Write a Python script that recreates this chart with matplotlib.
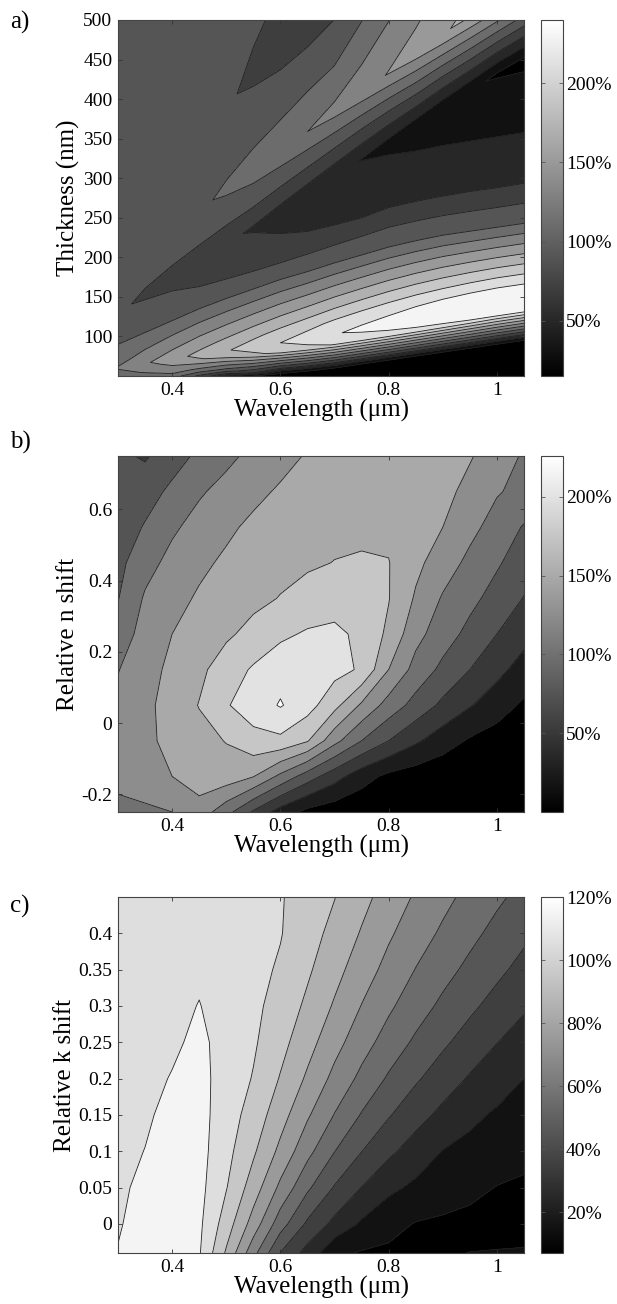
import numpy as np
import matplotlib.pyplot as plt
from matplotlib import cm
from matplotlib.colors import Normalize

plt.rcParams['font.family'] = ['Liberation Serif', 'DejaVu Serif']

# ---- a) enhancement vs wavelength and thickness
# each row follows one feature of the map (edge, ridge or valley): thickness (nm) and value (%)
wl_a = [0.30, 0.35, 0.40, 0.45, 0.50, 0.55, 0.60, 0.65, 0.70, 0.75, 0.80, 0.85, 0.90, 0.95, 1.00, 1.05]
bottom_d = [50] * 16
bottom_v = [105, 110, 112, 75, 40, 20, 17, 17, 17, 17, 17, 17, 17, 17, 17, 17]
edge_d = [53, 55, 57, 58, 58, 54, 53, 56, 60, 65, 70, 75, 80, 85, 90, 95]
edge_v = [112, 122, 130, 115, 95, 60, 19.5, 19.5, 19.5, 19.5, 19.5, 19.5, 19.5, 19.5, 19.5, 19.5]
shoulder_d = [57, 62, 67, 71, 75, 77, 80, 85, 90, 96, 102, 108, 114, 120, 126, 131]
shoulder_v = [118, 132, 146, 158, 168, 176, 185, 194, 201, 207, 212, 215, 217, 219, 220, 220]
ridge0_d = [60, 66, 72, 77, 82, 87, 92, 97, 103, 109, 115, 121, 128, 134, 141, 146]
ridge0_v = [122, 137, 152, 166, 178, 190, 200, 210, 218, 225, 230, 234, 236, 238, 240, 240]
upper_d = [68, 75, 82, 88, 94, 100, 106, 112, 119, 126, 133, 140, 147, 154, 160, 165]
upper_v = [114, 128, 141, 154, 165, 176, 186, 195, 203, 209, 214, 218, 220, 221, 222, 222]
flank_d = [90, 105, 120, 135, 148, 160, 172, 182, 193, 203, 213, 221, 228, 233, 238, 243]
flank_v = [100] * 16
slope_d = [110, 128, 146, 163, 180, 196, 210, 224, 237, 250, 263, 272, 280, 287, 293, 300]
slope_v = [92, 90, 86, 80, 74, 68, 64, 62, 61, 60, 60, 59, 58, 57, 56, 55]
valley1_d = [130, 152, 173, 195, 217, 238, 260, 281, 303, 324, 346, 367, 389, 410, 432, 450]
valley1_v = [83, 77, 72, 67, 62.5, 58.5, 54, 49, 44.5, 39.5, 35, 30, 26, 22, 18.5, 16]
mid_d = [158, 181, 204, 228, 251, 273, 297, 320, 343, 366, 390, 412, 436, 458, 481, 503]
mid_v = [87, 87, 87, 88, 88, 88, 87, 86, 85, 84, 86, 88, 90, 92, 94, 96]
ridge1_d = [186, 211, 235, 260, 285, 309, 334, 359, 383, 408, 433, 457, 482, 507, 531, 556]
ridge1_v = [88, 90, 93, 97, 103, 109, 114, 120, 126, 133, 141, 149, 158, 165, 171, 178]
gap_d = [211, 243, 275, 306, 338, 370, 405, 440, 470, 498, 523, 547, 572, 597, 621, 646]
gap_v = [89, 89, 89, 90, 90, 90, 89, 88, 88, 100, 112, 124, 134, 142, 148, 152]
valley2_d = [236, 275, 314, 352, 391, 430, 469, 508, 547, 585, 620, 650, 680, 710, 740, 760]
valley2_v = [88, 87, 86, 84, 82, 77, 71, 67, 68, 75, 80, 85, 88, 90, 92, 94]
top_d = [500, 500, 500, 500, 500, 560, 600, 620, 640, 660, 700, 730, 760, 790, 820, 840]
top_v = [90, 90, 90, 90, 90, 88, 87, 88, 88, 88, 88, 88, 88, 88, 88, 88]

# ---- b) enhancement vs wavelength and relative n shift
wl_b = [0.30, 0.35, 0.40, 0.45, 0.50, 0.55, 0.60, 0.65, 0.70, 0.75, 0.80, 0.85, 0.90, 0.95, 1.00, 1.05]
nshift_b = [-0.25, -0.15, -0.05, 0.05, 0.15, 0.25, 0.35, 0.45, 0.55, 0.65, 0.75]
enh_b = [
    [115, 120, 125, 140, 109, 71.5, 38.8, 18, 10, 6, 4, 3, 3, 3, 3, 4],
    [135, 140, 150, 162, 164, 151, 119, 87.5, 60, 35, 19, 12, 8, 6, 5, 5],
    [138, 146, 155, 167, 176, 192, 194, 177, 133, 100, 75, 54, 36, 22, 14, 10],
    [131, 144, 160, 176, 198, 212, 227, 210, 183, 146, 115, 91, 69.6, 51.8, 36, 21],
    [124, 140.6, 155.6, 169.4, 187.5, 203, 216, 217, 208, 197, 150, 116, 94, 75, 57, 40],
    [112, 134, 150, 160, 171, 182.5, 195, 203, 206, 194, 170, 133, 111.5, 93, 75, 58],
    [99, 128, 142, 153, 161, 169, 176, 183, 188, 186, 176, 147, 122.5, 106.7, 90.6, 74],
    [93, 116, 132.5, 145, 154, 162, 168, 172, 175.5, 177, 175.8, 156, 137.5, 118.75, 103, 87],
    [86, 102, 121, 134, 145.5, 155, 162, 166, 170, 171, 170, 163, 150, 132, 115, 98],
    [82, 90, 105, 122, 133, 144, 153, 160, 165, 168, 168, 165, 157, 143, 127, 118],
    [80, 72, 90, 104.7, 119, 131.4, 142, 152, 158, 162, 164, 163, 159, 152, 138, 122],
]

# ---- c) enhancement vs wavelength and relative k shift
wl_c = [0.30, 0.35, 0.40, 0.45, 0.50, 0.55, 0.60, 0.65, 0.70, 0.75,
        0.80, 0.85, 0.90, 0.95, 1.00, 1.05]
kshift_c = [-0.04, 0.0, 0.05, 0.10, 0.15, 0.20, 0.25, 0.30, 0.35, 0.40, 0.45]
enh_c = [
    [110.5, 116, 120, 111, 88.7, 63.3, 39.7, 26.2, 12, 9.2, 8.4, 8.3, 9.4, 10.1, 10.4, 10.6],
    [109, 114.5, 119, 112, 95.2, 75.7, 54.4, 38.2, 27.3, 18.5, 13, 9.5, 8.3, 7.5, 7.2, 7.5],
    [108, 112.5, 117, 113, 100.5, 85.2, 67.7, 51.8, 39.2, 29.8, 22.2, 18, 15.1, 12.3, 9.7, 8.7],
    [107, 110.2, 115, 113.5, 103.1, 91.5, 77.5, 63, 50.2, 40.2, 32.1, 25.4, 19.7, 17.2, 14.8, 12.3],
    [106, 108.5, 113, 113.5, 104.8, 95.9, 84.1, 71.3, 59.6, 49.3, 40.8, 33.7, 27.5, 22.2, 18.6, 16.2],
    [105.5, 107.5, 110.5, 113, 106, 99.4, 89.3, 78.4, 67.2, 57.5, 48.7, 41.3, 34.9, 29, 24.5, 20],
    [105, 106.5, 108.5, 112, 106.7, 101.3, 93.2, 83.7, 73.5, 64.1, 55.8, 48.3, 41.7, 35.8, 30.2, 25.7],
    [104.5, 106, 107.5, 110.3, 106.3, 102.2, 96.3, 88, 78.9, 69.7, 61.7, 54.5, 47.9, 42, 36.5, 31.3],
    [104, 105.5, 107, 108.5, 105.5, 103, 98.8, 91.5, 83.3, 74.8, 66.9, 59.7, 53.4, 47.6, 42.2, 37],
    [103.5, 105, 106.5, 107.5, 105, 102.8, 100.5, 94.2, 87, 79.2, 71.4, 64.7, 58.4, 52.6, 47.1, 42],
    [103, 104.5, 106, 107, 104.8, 102.7, 100.6, 96.5, 90.3, 83, 75.8, 68.8, 62.8, 57.1, 51.8, 47],
]

W, H = 617, 1304
fig = plt.figure(figsize=(W / 100, H / 100), dpi=100)


def add_panel(top_px, X, Y, Z, levels, vmin, vmax, cticks, ylim, yticks, yticklabels,
              ylabel, tag, tag_y, fill='mid'):
    ax = fig.add_axes([118 / W, 1 - (top_px + 356) / H, 406 / W, 356 / H])
    norm = Normalize(vmin, vmax)
    cmap = plt.get_cmap('gray')
    if fill == 'low':
        # each band painted with the colour of its lower level
        cols = [cmap(norm(l)) for l in levels[:-1]]
        ax.contourf(X, Y, Z, levels=levels, colors=cols)
    else:
        ax.contourf(X, Y, Z, levels=levels, cmap=cmap, norm=norm)
    ax.contour(X, Y, Z, levels=levels, colors='#202020', linewidths=0.6)
    ax.set_xlim(0.3, 1.05)
    ax.set_ylim(*ylim)
    ax.set_xticks([0.4, 0.6, 0.8, 1.0])
    ax.set_xticklabels(['0.4', '0.6', '0.8', '1'])
    ax.set_yticks(yticks)
    ax.set_yticklabels(yticklabels)
    ax.tick_params(direction='in', top=True, right=True, length=3, width=0.6,
                   labelsize=14, pad=4, colors='#333333', labelcolor='black')
    ax.set_xlabel('Wavelength (\u03bcm)', fontsize=18, labelpad=0)
    ax.set_ylabel(ylabel, fontsize=18, labelpad=2)
    for s in ax.spines.values():
        s.set_linewidth(0.8)
        s.set_color('#444444')

    cax = fig.add_axes([541 / W, 1 - (top_px + 356) / H, 22 / W, 356 / H])
    cb = fig.colorbar(cm.ScalarMappable(norm=norm, cmap=cmap), cax=cax, ticks=cticks)
    cb.ax.set_yticklabels(['%d%%' % t for t in cticks])
    cb.ax.tick_params(direction='in', left=True, right=True, length=3, width=0.6,
                      labelsize=14, pad=2, colors='#555555', labelcolor='black')
    cb.outline.set_linewidth(0.8)
    cb.outline.set_edgecolor('#444444')
    fig.text(10 / W, 1 - tag_y / H, tag, fontsize=18, va='center', ha='left')
    return ax


# panel a: curvilinear grid, one row per feature line
rows_d = [bottom_d, edge_d, shoulder_d, ridge0_d, upper_d, flank_d, slope_d,
          valley1_d, mid_d, ridge1_d, gap_d, valley2_d, top_d]
rows_v = [bottom_v, edge_v, shoulder_v, ridge0_v, upper_v, flank_v, slope_v,
          valley1_v, mid_v, ridge1_v, gap_v, valley2_v, top_v]
Ya = np.array(rows_d, dtype=float)
Za = np.array(rows_v, dtype=float)
Xa = np.tile(np.array(wl_a), (len(rows_d), 1))
add_panel(20, Xa, Ya, Za, np.arange(0, 261, 20), 15, 240, [50, 100, 150, 200],
          (50, 500), np.arange(100, 501, 50), [str(v) for v in range(100, 501, 50)],
          'Thickness (nm)', 'a)', 22)

# panel b
Xb, Yb = np.meshgrid(wl_b, nshift_b)
add_panel(456, Xb, Yb, np.array(enh_b, dtype=float), np.arange(0, 251, 25), 0, 226,
          [50, 100, 150, 200], (-0.25, 0.75), [-0.2, 0, 0.2, 0.4, 0.6],
          ['-0.2', '0', '0.2', '0.4', '0.6'], 'Relative n shift', 'b)', 442, fill='low')

# panel c
Xc, Yc = np.meshgrid(wl_c, kshift_c)
add_panel(897, Xc, Yc, np.array(enh_c, dtype=float), np.arange(0, 121, 10), 7, 120,
          [20, 40, 60, 80, 100, 120], (-0.04, 0.45), np.arange(0, 0.41, 0.05),
          ['0', '0.05', '0.1', '0.15', '0.2', '0.25', '0.3', '0.35', '0.4'],
          'Relative k shift', 'c)', 906)

fig.savefig('out.png', dpi=100)
